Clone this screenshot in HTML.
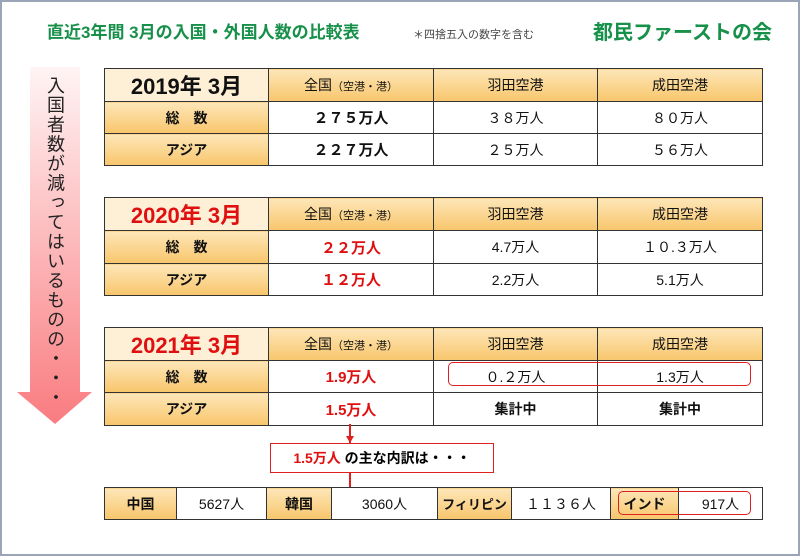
<!DOCTYPE html>
<html><head><meta charset="utf-8"><style>
body{margin:0;width:800px;height:556px;background:#fff;position:relative;overflow:hidden;font-family:"Liberation Sans","Noto Sans CJK JP",sans-serif}
.frame{position:absolute;left:0;top:0;width:796px;height:552px;border:2px solid #9aa6b8}
.abs{position:absolute}
table{position:absolute;left:104px;border-collapse:collapse;table-layout:fixed}
td{border:1.5px solid #333;text-align:center;padding:0;font-size:14px;color:#111}
td.o{background:linear-gradient(#fde6b8,#f8c66c);font-weight:bold}
td.c{background:#fdf0d6;font-weight:bold;font-size:22px}
td.h{background:linear-gradient(#fde6b8,#f8c66c);font-size:14px}
.r{color:#e01010;font-weight:bold}
.b{font-weight:bold}
small{font-size:11px}
</style></head><body>
<div class="frame"></div>
<div class="abs" style="left:47px;top:18px;font-size:17px;font-weight:bold;color:#17904a">直近3年間 3月の入国・外国人数の比較表</div>
<div class="abs" style="left:413px;top:26px;font-size:11px;color:#444">＊四捨五入の数字を含む</div>
<div class="abs" style="left:593px;top:16px;font-size:20px;font-weight:bold;color:#17904a">都民ファーストの会</div>
<svg class="abs" style="left:0;top:0" width="110" height="440">
<defs><linearGradient id="g" x1="0" y1="0" x2="0" y2="1"><stop offset="0" stop-color="#fff4f4"/><stop offset="1" stop-color="#f97c80"/></linearGradient></defs>
<polygon points="30,67 80,67 80,392 92,392 55,424 17,392 30,392" fill="url(#g)"/>
</svg>
<div class="abs" style="left:43px;top:76px;writing-mode:vertical-rl;font-size:18px;line-height:24px;color:#222;letter-spacing:1.5px">入国者数が減ってはいるものの・・・</div>

<table style="top:68px;width:658px"><colgroup><col style="width:164px"><col style="width:165px"><col style="width:164px"><col style="width:165px"></colgroup>
<tr style="height:32px"><td class="c">2019年 3月</td><td class="h">全国<small>（空港・港）</small></td><td class="h">羽田空港</td><td class="h">成田空港</td></tr>
<tr style="height:32px"><td class="o">総　数</td><td class="b" style="font-size:15px">２７５万人</td><td>３８万人</td><td>８０万人</td></tr>
<tr style="height:32px"><td class="o">アジア</td><td class="b" style="font-size:15px">２２７万人</td><td>２５万人</td><td>５６万人</td></tr>
</table>

<table style="top:197px;width:658px"><colgroup><col style="width:164px"><col style="width:165px"><col style="width:164px"><col style="width:165px"></colgroup>
<tr style="height:33px"><td class="c" style="color:#e01010">2020年 3月</td><td class="h">全国<small>（空港・港）</small></td><td class="h">羽田空港</td><td class="h">成田空港</td></tr>
<tr style="height:33px"><td class="o">総　数</td><td class="r" style="font-size:15px">２２万人</td><td>4.7万人</td><td>１０.３万人</td></tr>
<tr style="height:32px"><td class="o">アジア</td><td class="r" style="font-size:15px">１２万人</td><td>2.2万人</td><td>5.1万人</td></tr>
</table>

<table style="top:327px;width:658px"><colgroup><col style="width:164px"><col style="width:165px"><col style="width:164px"><col style="width:165px"></colgroup>
<tr style="height:32px"><td class="c" style="color:#e01010">2021年 3月</td><td class="h">全国<small>（空港・港）</small></td><td class="h">羽田空港</td><td class="h">成田空港</td></tr>
<tr style="height:32px"><td class="o">総　数</td><td class="r" style="font-size:15px">1.9万人</td><td>０.２万人</td><td>1.3万人</td></tr>
<tr style="height:33px"><td class="o">アジア</td><td class="r" style="font-size:15px">1.5万人</td><td class="b">集計中</td><td class="b">集計中</td></tr>
</table>
<div class="abs" style="left:448px;top:362px;width:301px;height:22px;border:1.5px solid #e02020;border-radius:5px"></div>

<div class="abs" style="left:349px;top:424px;width:1.5px;height:63px;background:#e02020"></div>
<div class="abs" style="left:346px;top:436px;width:0;height:0;border-left:4px solid transparent;border-right:4px solid transparent;border-top:7px solid #e02020"></div>
<div class="abs" style="left:270px;top:443px;width:222px;height:28px;border:1.5px solid #e02020;background:#fff;text-align:center;line-height:28px;font-size:14px;font-weight:bold"><span style="color:#e01010">1.5万人</span> の主な内訳は・・・</div>

<table style="top:487px;width:658px"><colgroup><col style="width:72px"><col style="width:90px"><col style="width:65px"><col style="width:106px"><col style="width:74px"><col style="width:99px"><col style="width:68px"><col style="width:84px"></colgroup>
<tr style="height:32px"><td class="o">中国</td><td>5627人</td><td class="o">韓国</td><td>3060人</td><td class="o" style="font-size:13px">フィリピン</td><td>１１３６人</td><td class="o">インド</td><td>917人</td></tr>
</table>
<div class="abs" style="left:618px;top:491px;width:131px;height:22px;border:1.5px solid #e02020;border-radius:5px"></div>
</body></html>
